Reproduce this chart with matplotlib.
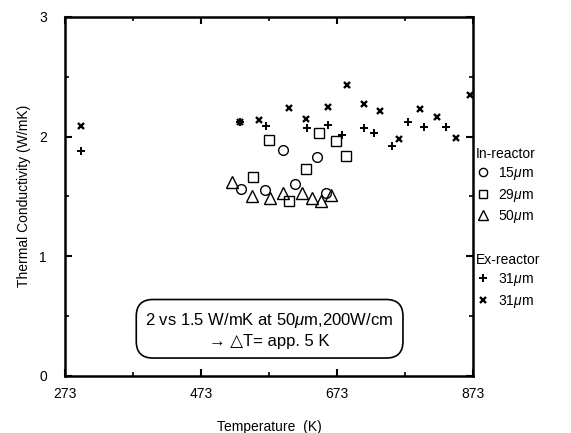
import numpy as np
import matplotlib.pyplot as plt

plt.rcParams['font.family'] = ['Liberation Sans', 'DejaVu Sans']
plt.rcParams['mathtext.fontset'] = 'custom'
plt.rcParams['mathtext.it'] = 'Liberation Sans:italic'

# in-reactor data
t15 = [532, 567, 594, 611, 644, 657]
k15 = [1.56, 1.55, 1.89, 1.60, 1.83, 1.53]
t29 = [549, 573, 602, 627, 647, 672, 686]
k29 = [1.66, 1.97, 1.46, 1.73, 2.03, 1.96, 1.84]
t50 = [518, 548, 575, 594, 622, 636, 649, 665]
k50 = [1.62, 1.50, 1.49, 1.53, 1.53, 1.49, 1.46, 1.51]

# ex-reactor data
t31a = [296, 530, 569, 629, 660, 681, 713, 727, 754, 778, 801, 834]
k31a = [1.88, 2.12, 2.09, 2.07, 2.10, 2.01, 2.07, 2.03, 1.92, 2.12, 2.08, 2.08]
t31b = [296, 530, 558, 602, 627, 660, 688, 713, 737, 765, 795, 820, 848, 869]
k31b = [2.09, 2.12, 2.14, 2.24, 2.15, 2.25, 2.43, 2.27, 2.21, 1.98, 2.23, 2.16, 1.99, 2.35]

fig = plt.figure(figsize=(5.71, 4.33), dpi=100)
ax = fig.add_axes([0.114, 0.132, 0.714, 0.829])

ms = 7
h1, = ax.plot(t15, k15, 'o', mfc='none', mec='k', ms=ms, mew=1.0, label='15$\\mu$m')
h2, = ax.plot(t29, k29, 's', mfc='none', mec='k', ms=ms, mew=1.0, label='29$\\mu$m')
h3, = ax.plot(t50, k50, '^', mfc='none', mec='k', ms=ms + 1, mew=1.0, label='50$\\mu$m')
h4, = ax.plot(t31a, k31a, '+', color='k', ms=6, mew=1.4, label='31$\\mu$m')
h5, = ax.plot(t31b, k31b, 'x', color='k', ms=5, mew=1.7, label='31$\\mu$m')

ax.set_xlim(273, 873)
ax.set_ylim(0, 3)
ax.set_xticks([273, 473, 673, 873])
ax.set_xticks([373, 573, 773], minor=True)
ax.set_yticks([0, 1, 2, 3])
ax.set_yticks([0.5, 1.5, 2.5], minor=True)
ax.tick_params(which='both', direction='in', top=True, right=True, labelsize=10)
ax.tick_params(axis='x', which='both', pad=8)
ax.tick_params(axis='y', which='both', pad=13)
ax.tick_params(which='major', length=5, width=1.5)
ax.tick_params(which='minor', length=3, width=1.2)
for s in ax.spines.values():
    s.set_linewidth(1.8)

ax.set_xlabel('Temperature  (K)', fontsize=10, labelpad=14)
ax.set_ylabel('Thermal Conductivity (W/mK)', fontsize=10, labelpad=6)

ax.text(574, 0.385, '2 vs 1.5 W/mK at 50$\\mu$m,200W/cm\n\u2192 \u25b3T= app. 5 K',
        ha='center', va='center', fontsize=12, linespacing=1.35,
        bbox=dict(boxstyle='round,pad=0.55,rounding_size=1.0', fc='white', ec='k', lw=1.2))

leg1 = ax.legend(handles=[h1, h2, h3], title='In-reactor', loc='upper left',
                 bbox_to_anchor=(1.0, 0.646), frameon=False, fontsize=10,
                 title_fontsize=10, handlelength=1.0, handletextpad=0.6,
                 labelspacing=0.32, borderaxespad=0.0, borderpad=0.2, markerscale=0.85)
leg1._legend_box.align = 'left'
ax.add_artist(leg1)
leg2 = ax.legend(handles=[h4, h5], title='Ex-reactor', loc='upper left',
                 bbox_to_anchor=(1.0, 0.351), frameon=False, fontsize=10,
                 title_fontsize=10, handlelength=1.0, handletextpad=0.6,
                 labelspacing=0.32, borderaxespad=0.0, borderpad=0.2, markerscale=0.85)
leg2._legend_box.align = 'left'

fig.savefig('out.png', dpi=100)
